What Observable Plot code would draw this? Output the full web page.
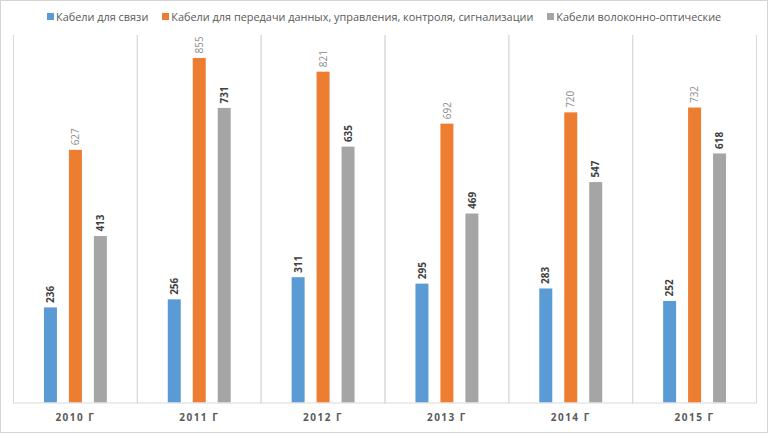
<!DOCTYPE html>
<html>
<head>
<meta charset="utf-8">
<script src="https://cdn.jsdelivr.net/npm/d3@7"></script>
<script src="https://cdn.jsdelivr.net/npm/@observablehq/plot@0.6"></script>
<style>
  html, body { margin: 0; padding: 0; background: #fff; }
  #wrap { position: relative; width: 768px; height: 433px; box-sizing: border-box; border: 1px solid #d4d4d4; overflow: hidden; font-family: "Open Sans", sans-serif; }
  #legend { position: absolute; top: 8px; left: 46px; display: flex; align-items: center; font-size: 10.9px; color: #595959; white-space: nowrap; }
  #legend .item { display: flex; align-items: center; margin-right: 14px; }
  #legend .sw { width: 7px; height: 7px; margin-right: 2px; }
  #chart { position: absolute; top: 29px; left: -1px; }
</style>
</head>
<body>
<div id="wrap">
  <div id="legend"></div>
  <div id="chart"></div>
</div>
<script>
const years = ["2010 Г", "2011 Г", "2012 Г", "2013 Г", "2014 Г", "2015 Г"];
const seriesNames = [
  "Кабели для связи",
  "Кабели для передачи данных, управления, контроля, сигнализации",
  "Кабели волоконно-оптические"
];
const seriesColors = ["#5b9bd5", "#ed7d31", "#a5a5a5"];
const commCables = [236, 256, 311, 295, 283, 252];
const dataCables = [627, 855, 821, 692, 720, 732];
const fiberCables = [413, 731, 635, 469, 547, 618];

const seriesValues = [commCables, dataCables, fiberCables];
const rows = [];
years.forEach((yr, i) => {
  seriesNames.forEach((s, j) => {
    rows.push({year: yr, series: s, value: seriesValues[j][i], idx: j});
  });
});

// legend
const legend = document.getElementById("legend");
seriesNames.forEach((s, j) => {
  const it = document.createElement("div");
  it.className = "item";
  const sw = document.createElement("span");
  sw.className = "sw";
  sw.style.background = seriesColors[j];
  const tx = document.createElement("span");
  tx.textContent = s;
  it.appendChild(sw); it.appendChild(tx);
  legend.appendChild(it);
});

const chart = Plot.plot({
  width: 768,
  height: 403,
  marginLeft: 12,
  marginRight: 10,
  marginTop: 5,
  marginBottom: 30,
  style: {fontFamily: "Open Sans, sans-serif", background: "transparent"},
  fx: {domain: years, padding: 0, label: null, axis: "bottom", tickSize: 0, tickPadding: 11},
  x: {domain: seriesNames, paddingInner: 0.5, paddingOuter: 1.135, axis: null},
  y: {domain: [0, 912], axis: null},
  color: {domain: seriesNames, range: seriesColors},
  marks: [
    Plot.frame({anchor: "left", stroke: "#d9d9d9"}),
    Plot.frame({anchor: "right", stroke: "#d9d9d9"}),
    Plot.barY(rows, {fx: "year", x: "series", y: "value", fill: "series"}),
    Plot.ruleY([0], {stroke: "#d9d9d9"}),
    Plot.text(rows.filter(d => d.idx !== 1), {
      fx: "year", x: "series", y: "value", text: d => String(d.value),
      rotate: -90, textAnchor: "start", dy: -5, fontSize: 10, fontWeight: "bold", fill: "#404040"
    }),
    Plot.text(rows.filter(d => d.idx === 1), {
      fx: "year", x: "series", y: "value", text: d => String(d.value),
      rotate: -90, textAnchor: "start", dy: -5, fontSize: 10, fill: "#8c8c8c"
    })
  ]
});
chart.querySelectorAll("g[aria-label='fx-axis tick label'] text, g[aria-label='fx-axis tick label']").forEach(el => {
  el.setAttribute("font-weight", "bold");
  el.setAttribute("font-size", "10");
  el.setAttribute("fill", "#595959");
  el.style.letterSpacing = "1.5px";
});
document.getElementById("chart").appendChild(chart);
</script>
</body>
</html>
